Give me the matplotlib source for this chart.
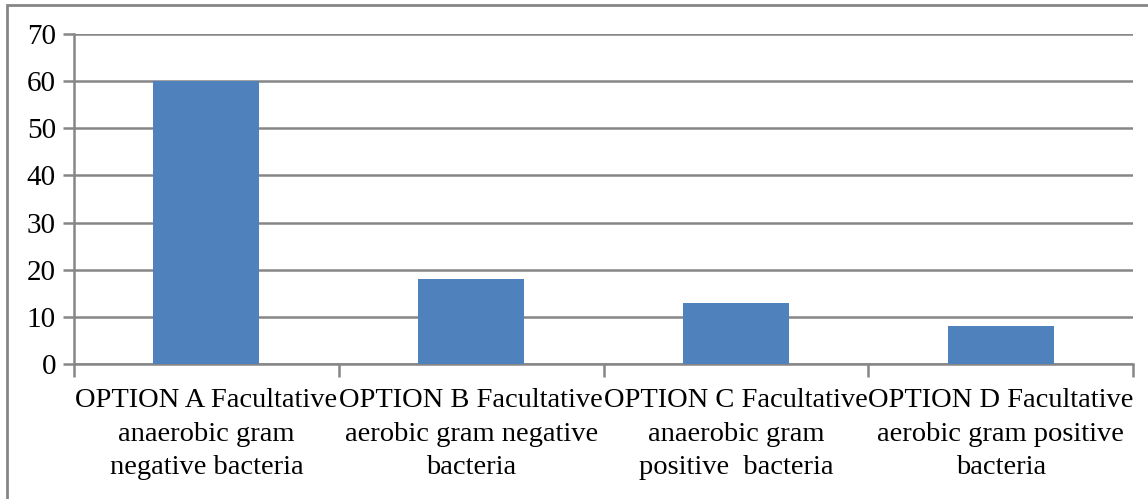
import matplotlib.pyplot as plt
from matplotlib.patches import Rectangle

categories = [
    "OPTION A Facultative\nanaerobic gram\nnegative bacteria",
    "OPTION B Facultative\naerobic gram negative\nbacteria",
    "OPTION C Facultative\nanaerobic gram\npositive  bacteria",
    "OPTION D Facultative\naerobic gram positive\nbacteria",
]
values = [60, 18, 13, 8]
yticks = [0, 10, 20, 30, 40, 50, 60, 70]

plt.rcParams['font.family'] = ['Liberation Serif', 'DejaVu Serif']
grey = '#868686'

fig = plt.figure(figsize=(11.48, 4.99), dpi=100)
ax = fig.add_axes([74 / 1148, 1 - 364 / 499, (1133 - 74) / 1148, (364 - 34) / 499])

x = list(range(len(categories)))
ax.bar(x, values, width=0.4, color='#4F81BD', zorder=3)

ax.set_xlim(-0.5, len(categories) - 0.5)
ax.set_ylim(0, 70)
ax.set_yticks(yticks)
ax.tick_params(axis='y', labelsize=21, length=8, width=1.8, color=grey, pad=5)

# category labels centred, ticks at boundaries
ax.set_xticks(x)
ax.set_xticklabels(categories, fontsize=20.5, linespacing=1.47)
ax.tick_params(axis='x', length=0, pad=17)
ax.set_xticks([i - 0.5 for i in range(len(categories) + 1)], minor=True)
ax.tick_params(axis='x', which='minor', length=9, width=1.8, color=grey)

ax.yaxis.grid(True, color=grey, linewidth=1.8, zorder=0)
for side in ['top', 'right']:
    ax.spines[side].set_visible(False)
for side in ['left', 'bottom']:
    ax.spines[side].set_color(grey)
    ax.spines[side].set_linewidth(1.8)

# outer chart border (cropped at right and bottom)
fig.patches.append(Rectangle((7 / 1148, -0.1), 1.2, 1 - 5 / 499 + 0.1,
                             transform=fig.transFigure, fill=False,
                             edgecolor=grey, linewidth=2))

fig.savefig('out.png', dpi=100)
